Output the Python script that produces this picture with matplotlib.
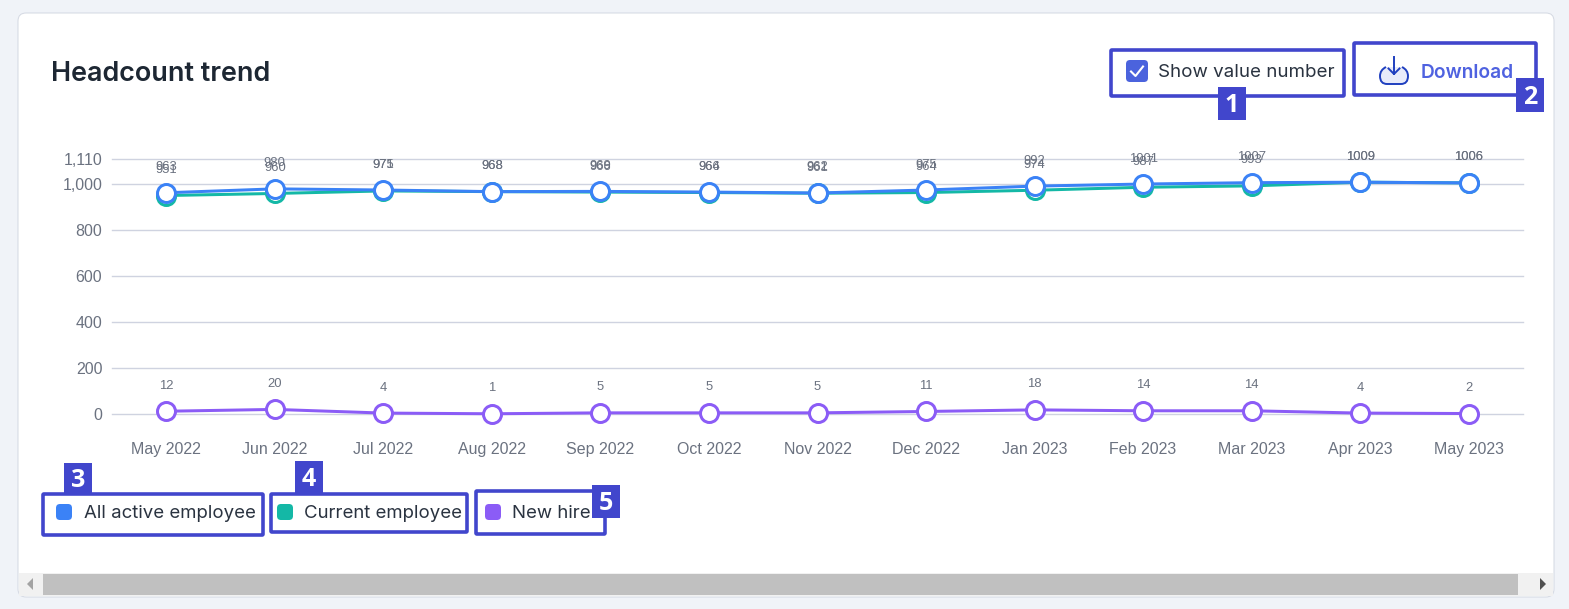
"""Headcount trend card: line chart with the surrounding UI and numbered callouts."""
import matplotlib
matplotlib.use("Agg")
import matplotlib.pyplot as plt
from matplotlib.patches import FancyBboxPatch, PathPatch, Rectangle, Polygon
from matplotlib.path import Path

plt.rcParams["font.family"] = ["Inter", "DejaVu Sans"]

months = ["May 2022", "Jun 2022", "Jul 2022", "Aug 2022", "Sep 2022", "Oct 2022", "Nov 2022",
          "Dec 2022", "Jan 2023", "Feb 2023", "Mar 2023", "Apr 2023", "May 2023"]
all_active = [963, 980, 975, 968, 969, 966, 962, 975, 992, 1001, 1007, 1009, 1006]
current = [951, 960, 971, 968, 966, 964, 961, 964, 974, 987, 993, 1009, 1006]
new_hire = [12, 20, 4, 1, 5, 5, 5, 11, 18, 14, 14, 4, 2]
y_ticks = [0, 200, 400, 600, 800, 1000, 1110]
y_tick_labels = ["0", "200", "400", "600", "800", "1,000", "1,110"]
legend_names = ["All active employee", "Current employee", "New hire"]

BLUE = "#3b82f6"
TEAL = "#14b8a6"
PURPLE = "#8b5cf6"
CALLOUT = "#4146cc"
CHART_FONT = ["Liberation Sans", "DejaVu Sans"]
W, H = 1569, 609
PX = 0.72  # points per pixel at dpi 100

fig = plt.figure(figsize=(W / 100, H / 100), dpi=100, facecolor="#f0f3f8")

# page-sized layer for the card, controls and callouts, y pointing down in pixels
ui = fig.add_axes([0, 0, 1, 1], zorder=0)
ui.set_xlim(0, W)
ui.set_ylim(H, 0)
ui.axis("off")


def rounded(x0, y0, x1, y1, r=2, **kw):
    ui.add_patch(FancyBboxPatch((x0 + r, y0 + r), x1 - x0 - 2 * r, y1 - y0 - 2 * r,
                                boxstyle=f"round,pad={r},rounding_size={r}", **kw))


def callout(x0, y0, x1, y1, badge, number):
    rounded(x0, y0, x1, y1, r=1, fc="none", ec=CALLOUT, lw=3.6 * PX, zorder=8)
    ui.add_patch(Rectangle((badge[0], badge[1]), badge[2] - badge[0], badge[3] - badge[1],
                           fc=CALLOUT, ec="none", zorder=9))
    ui.text((badge[0] + badge[2]) / 2, (badge[1] + badge[3]) / 2 + 2, number, color="white",
            fontsize=18, fontweight="bold", ha="center", va="center",
            family=["Open Sans", "DejaVu Sans"], zorder=10)


rounded(18, 13, 1554, 597, r=8, fc="white", ec="#d3d8e2", lw=0.7, zorder=1)
ui.text(51, 74, "Headcount trend", fontsize=19.4, fontweight="semibold", color="#1d2733",
        va="center", zorder=3)

# checkbox
rounded(1126, 60, 1148, 82, r=4, fc="#4b63dd", ec="none", zorder=3)
ui.plot([1131, 1135.5, 1143], [71.5, 76, 66.5], color="white", lw=1.5, zorder=4)
ui.text(1158, 72.5, "Show value number", fontsize=13.5, color="#2a3340", va="center", zorder=3)

# download button
tray = Path([(1386, 67), (1380, 70), (1380, 76), (1380, 84), (1387, 84), (1401, 84),
             (1408, 84), (1408, 76), (1408, 70), (1402, 67)],
            [Path.MOVETO, Path.CURVE3, Path.CURVE3, Path.CURVE3, Path.CURVE3, Path.LINETO,
             Path.CURVE3, Path.CURVE3, Path.CURVE3, Path.CURVE3])
ui.add_patch(PathPatch(tray, fc="#e8ebfa", ec="#1f3fbf", lw=1.4, zorder=3))
ui.plot([1394, 1394], [57, 74], color="#1f3fbf", lw=1.4, zorder=4)
ui.plot([1388.5, 1394, 1399.5], [68.5, 74, 68.5], color="#1f3fbf", lw=1.4, zorder=4)
ui.text(1421, 72.5, "Download", fontsize=13.8, fontweight="semibold", color="#4f62e0",
        va="center", zorder=3)

# legend
for name, color, sx, tx in zip(legend_names, [BLUE, TEAL, PURPLE], [56, 277, 485], [84, 304, 512]):
    rounded(sx, 504, sx + 16, 520, r=4, fc=color, ec="none", zorder=3)
    ui.text(tx, 513.5, name, fontsize=13.4, color="#2a3340", va="center", zorder=3)

# scrollbar
ui.add_patch(Rectangle((19, 573), 1534, 23, fc="#f1f1f1", ec="none", zorder=2))
ui.add_patch(Rectangle((43, 574), 1475, 21, fc="#c0c0c0", ec="none", zorder=3))
ui.add_patch(Polygon([(33, 578), (33, 590), (27, 584)], fc="#a3a3a3", ec="none", zorder=3))
ui.add_patch(Polygon([(1540, 578), (1540, 590), (1546, 584)], fc="#505050", ec="none", zorder=3))

callout(1111, 50, 1344, 96, (1218, 87, 1246, 120), "1")
callout(1354, 43, 1536, 95, (1516, 78, 1544, 112), "2")
callout(43, 494, 263, 535, (64, 463, 92, 494), "3")
callout(271, 494, 467, 532, (295, 461, 323, 494), "4")
callout(476, 491, 605, 534, (592, 485, 620, 518), "5")

# chart
left, right, top, bottom = 112, 1523, 159, 414
ax = fig.add_axes([left / W, 1 - bottom / H, (right - left) / W, (bottom - top) / H], zorder=5)
ax.patch.set_alpha(0)
ax.set_xlim(-0.5, len(months) - 0.5)
ax.set_ylim(0, 1110)
for s in ax.spines.values():
    s.set_visible(False)
ax.set_yticks(y_ticks)
ax.set_yticklabels(y_tick_labels, family=CHART_FONT)
ax.set_xticks(range(len(months)))
ax.set_xticklabels(months, family=CHART_FONT)
ax.tick_params(length=0, labelsize=11.5, labelcolor="#6b7280")
ax.tick_params(axis="y", pad=7)
ax.tick_params(axis="x", pad=28 * PX)
ax.grid(axis="y", color="#cfd3e0", lw=1, clip_on=False)
ax.set_axisbelow(True)

for values, color in [(new_hire, PURPLE), (current, TEAL), (all_active, BLUE)]:
    ax.plot(range(len(months)), values, color=color, lw=3 * PX, marker="o",
            markersize=18 * PX, markerfacecolor="white", markeredgecolor=color,
            markeredgewidth=3 * PX, clip_on=False)
    for i, v in enumerate(values):
        ax.annotate(str(v), (i, v), xytext=(0, 25.5 * PX), textcoords="offset points",
                    ha="center", va="center", fontsize=9.4, color="#6b7280", family=CHART_FONT)

fig.savefig("out.png", dpi=100, facecolor=fig.get_facecolor())
